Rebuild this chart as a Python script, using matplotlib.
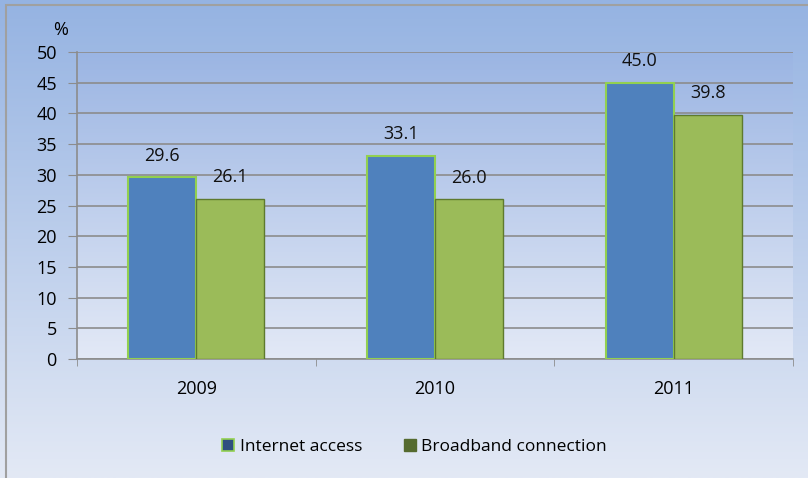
import numpy as np
import matplotlib
matplotlib.use('Agg')
import matplotlib.pyplot as plt
from matplotlib.colors import LinearSegmentedColormap
from matplotlib.patches import Rectangle, Patch

years = ['2009', '2010', '2011']
internet_access = [29.6, 33.1, 45.0]
broadband = [26.1, 26.0, 39.8]
series_names = ['Internet access', 'Broadband connection']

plt.rcParams['font.family'] = ['Open Sans', 'DejaVu Sans']

fig = plt.figure(figsize=(8.08, 4.78), dpi=100)

# gradient background over the whole figure
bg = fig.add_axes([0, 0, 1, 1], zorder=-10)
grad = np.linspace(0, 1, 256).reshape(-1, 1)
cmap = LinearSegmentedColormap.from_list('bg', ['#95b3e2', '#e3e9f5'])
bg.imshow(grad, aspect='auto', cmap=cmap, extent=[0, 1, 0, 1])
bg.set_axis_off()
fig.patches.append(Rectangle((0.007, -0.05), 1.2, 1.04, transform=fig.transFigure,
                             fill=False, edgecolor='#a0a0a0', linewidth=1.5))

ax = fig.add_axes([0.0953, 0.249, 0.886, 0.642])

x = np.arange(len(years))
w = 0.285

# plot area has its own slightly stronger gradient
pcmap = LinearSegmentedColormap.from_list('pa', ['#9bb5e3', '#e3e9f6'])
ax.imshow(grad, aspect='auto', cmap=pcmap, extent=[-0.5, len(years) - 0.5, 0, 50], zorder=-5)

b1 = ax.bar(x - w / 2, internet_access, w, color='#4f81bd', edgecolor='#92d050', linewidth=1.5, zorder=3)
b2 = ax.bar(x + w / 2, broadband, w, color='#9bbb59', edgecolor='#5e7a2e', linewidth=1.0, zorder=3)

for bars, vals in ((b1, internet_access), (b2, broadband)):
    for r, v in zip(bars, vals):
        ax.annotate(f'{v:.1f}', (r.get_x() + r.get_width() / 2, v), xytext=(0, 9),
                    textcoords='offset points', ha='center', va='bottom', fontsize=13, color='#111111')

ax.set_xlim(-0.5, len(years) - 0.5)
ax.set_ylim(0, 50)
ax.set_yticks(np.arange(0, 51, 5))
ax.yaxis.grid(True, color='#8c8c8c', linewidth=1.2, zorder=0)
ax.set_axisbelow(True)
ax.set_xticks(x)
ax.set_xticklabels(years, fontsize=13)
ax.set_xticks(np.arange(-0.5, len(years), 1), minor=True)
ax.tick_params(axis='x', which='major', length=0, pad=15)
ax.tick_params(axis='x', which='minor', length=5, color='#8c8c8c')
ax.tick_params(axis='y', length=6.5, color='#8c8c8c', labelsize=13, pad=8)

for s in ('top', 'right'):
    ax.spines[s].set_visible(False)
for s in ('left', 'bottom'):
    ax.spines[s].set_color('#8c8c8c')
    ax.spines[s].set_linewidth(1.2)

fig.text(0.0755, 0.937, '%', fontsize=13, ha='center', va='center')

handles = [Patch(facecolor='#2f4f80', edgecolor='#92d050', linewidth=1.2),
           Patch(facecolor='#556b2f', edgecolor='#556b2f')]
fig.legend(handles, series_names, loc='center', bbox_to_anchor=(0.513, 0.065), ncol=2,
           frameon=False, fontsize=12.5, handlelength=0.7, handleheight=0.7,
           handletextpad=0.3, columnspacing=2.4)

fig.savefig('out.png', dpi=100)
